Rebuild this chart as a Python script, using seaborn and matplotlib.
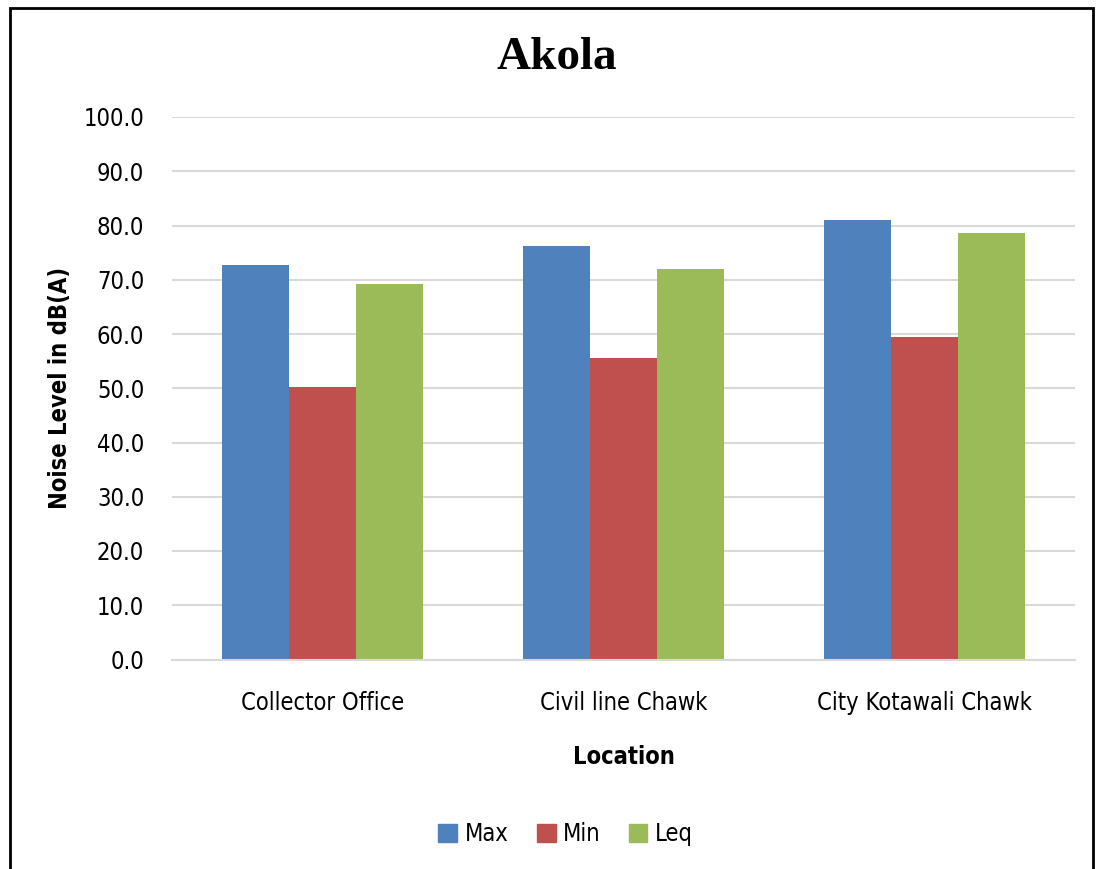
import pandas as pd
import matplotlib.pyplot as plt
import seaborn as sns
from matplotlib.patches import Rectangle

# Chart values
locations = ["Collector Office", "Civil line Chawk", "City Kotawali Chawk"]
max_vals = [72.8, 76.3, 81.1]
min_vals = [50.3, 55.6, 59.5]
leq_vals = [69.3, 72.0, 78.7]
series = ["Max", "Min", "Leq"]
colors = ["#4F81BD", "#C0504D", "#9BBB59"]
yticks = [0, 10, 20, 30, 40, 50, 60, 70, 80, 90, 100]

df = pd.DataFrame({
    "Location": locations * 3,
    "Series": ["Max"] * 3 + ["Min"] * 3 + ["Leq"] * 3,
    "Value": max_vals + min_vals + leq_vals,
})

sns.set_style("white")
plt.rcParams["font.family"] = ["DejaVu Sans"]
plt.rcParams["font.stretch"] = "condensed"
plt.rcParams["text.color"] = "black"
plt.rcParams["axes.labelcolor"] = "black"
plt.rcParams["xtick.color"] = "black"
plt.rcParams["ytick.color"] = "black"

fig = plt.figure(figsize=(10.98, 8.69), dpi=100)
ax = fig.add_axes([172 / 1098, 1 - 659.5 / 869, 903 / 1098, (659.5 - 117) / 869])

sns.barplot(data=df, x="Location", y="Value", hue="Series", hue_order=series,
            palette=colors, width=0.667, gap=0, saturation=1, ax=ax, legend=False,
            linewidth=0, edgecolor="none")

ax.set_ylim(0, 100)
ax.set_yticks(yticks)
ax.set_yticklabels([f"{v:.1f}" for v in yticks], fontsize=17)
ax.tick_params(axis="x", labelsize=17, length=0, pad=23)
ax.tick_params(axis="y", length=0, pad=20)
ax.yaxis.grid(True, color="#D9D9D9", linewidth=1.5)
ax.set_axisbelow(True)
for s in ["top", "right", "left"]:
    ax.spines[s].set_visible(False)
ax.spines["bottom"].set_color("#D9D9D9")
ax.spines["bottom"].set_linewidth(1.5)

ax.set_xlabel("Location", fontsize=17, fontweight="bold", labelpad=21)
ax.set_ylabel("Noise Level in dB(A)", fontsize=17, fontweight="bold", labelpad=8)

fig.text(0.507, 1 - 58 / 869, "Akola", ha="center", va="center",
         fontsize=34, fontweight="bold", fontstretch="normal",
         family=["Liberation Serif", "DejaVu Serif"])

# legend
handles = [Rectangle((0, 0), 1, 1, color=c) for c in colors]
fig.legend(handles, series, loc="center", bbox_to_anchor=(0.515, 1 - 834 / 869),
           ncol=3, frameon=False, fontsize=17, handlelength=0.8, handleheight=0.8,
           handletextpad=0.3, columnspacing=1.2)

# outer border (bottom is cut off in the reference)
fig.patches.append(Rectangle((10 / 1098, -0.05), 1083 / 1098, 1.05 - 8 / 869,
                             transform=fig.transFigure, fill=False,
                             edgecolor="black", linewidth=2))

fig.savefig("out.png", dpi=100)
